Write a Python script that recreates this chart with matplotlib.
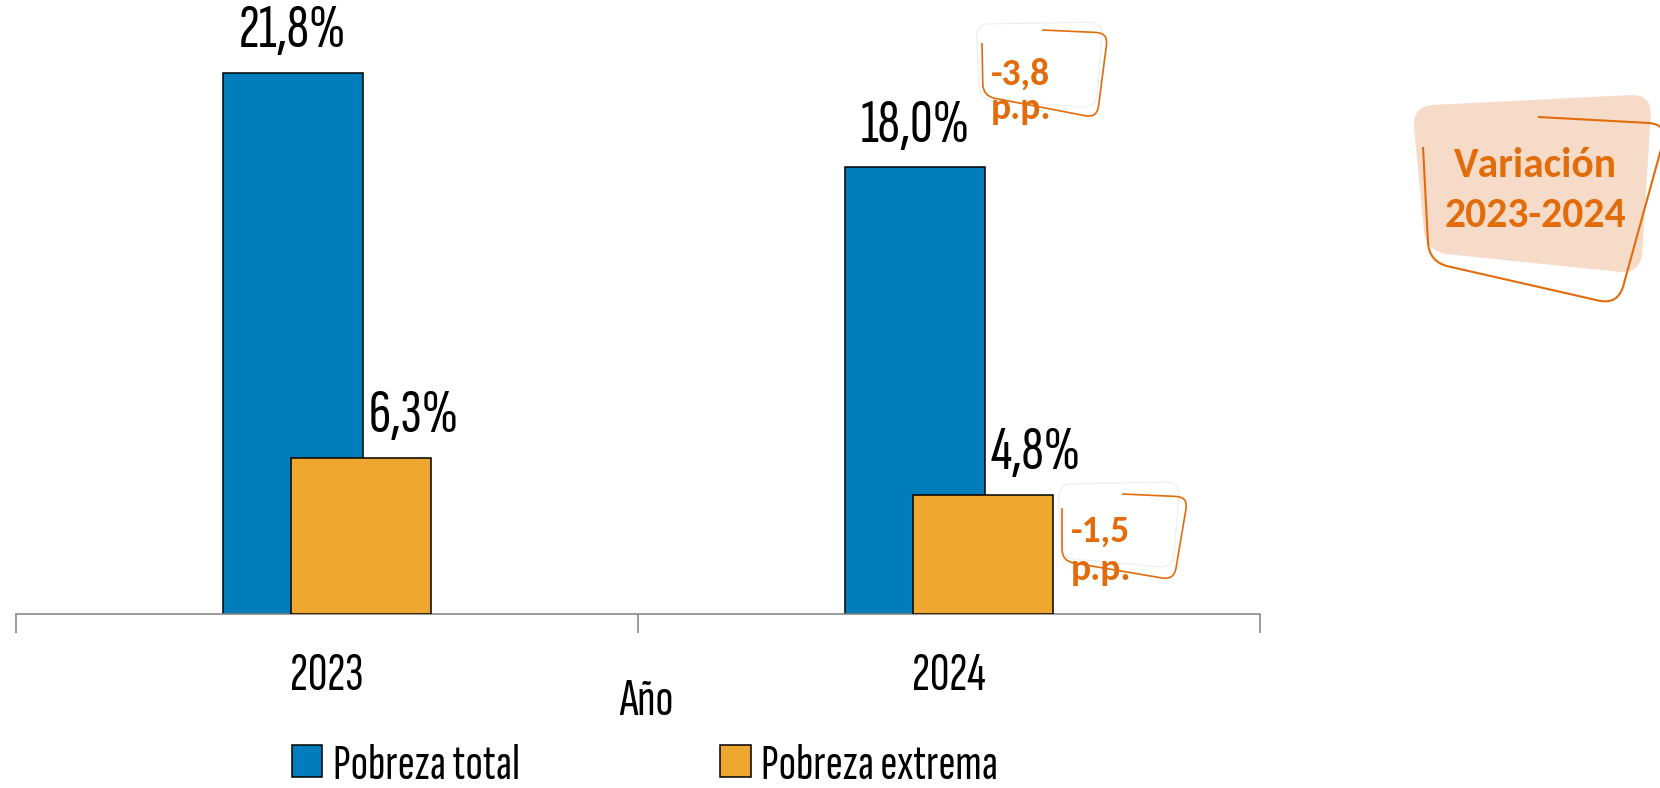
import matplotlib.pyplot as plt
import numpy as np
from matplotlib import font_manager
from matplotlib.patches import PathPatch
from matplotlib.path import Path

# data
years = ["2023", "2024"]
pobreza_total = [21.8, 18.0]
pobreza_extrema = [6.3, 4.8]
series_names = ["Pobreza total", "Pobreza extrema"]

BLUE = "#007DBA"
GOLD = "#EFA82F"
ORANGE = "#E36C0A"
PEACH = "#F7DBC9"

names = {f.name for f in font_manager.fontManager.ttflist}
NARROW = "Sofia Sans Extra Condensed" if "Sofia Sans Extra Condensed" in names else "DejaVu Sans"
BOLD = "Carlito" if "Carlito" in names else "Open Sans"


def pct(v):
    return f"{v:.1f}%".replace(".", ",")


def pp(v):
    return f"{v:.1f}".replace(".", ",") + "\np.p."


def rounded_path(points, r, closed=False):
    pts = [np.asarray(p, float) for p in points]
    n = len(pts)
    verts, codes = [], []
    corners = range(n) if closed else range(1, n - 1)
    if not closed:
        verts.append(pts[0])
        codes.append(Path.MOVETO)
    for k, i in enumerate(corners):
        p, a, b = pts[i], pts[i - 1], pts[(i + 1) % n]
        s = p + (a - p) / np.linalg.norm(a - p) * r
        e = p + (b - p) / np.linalg.norm(b - p) * r
        verts += [s, p, e]
        codes += [Path.MOVETO if (closed and k == 0) else Path.LINETO, Path.CURVE3, Path.CURVE3]
    if closed:
        verts.append(verts[0])
        codes.append(Path.CLOSEPOLY)
    else:
        verts.append(pts[-1])
        codes.append(Path.LINETO)
    return Path(verts, codes)


W, H = 1660, 788
fig = plt.figure(figsize=(W / 100, H / 100), dpi=100)
ax = fig.add_axes([16 / W, 1 - 614 / H, (1260 - 16) / W, 614 / H])

x = np.arange(len(years))
bw, off = 0.2245, 0.055
b1 = ax.bar(x - off, pobreza_total, bw, color=BLUE, edgecolor="black", linewidth=1.1,
            label=series_names[0], zorder=2)
b2 = ax.bar(x + off, pobreza_extrema, bw, color=GOLD, edgecolor="black", linewidth=1.1,
            label=series_names[1], zorder=3)

# value labels (extrema labels sit to the right of the bar centre)
for xi, v in zip(x - off, pobreza_total):
    ax.annotate(pct(v), (xi, v), xytext=(0, 18.5), textcoords="offset points",
                ha="center", va="baseline", fontsize=45, family=NARROW)
for xi, v in zip(x + off, pobreza_extrema):
    ax.annotate(pct(v), (xi, v), xytext=(38, 18.5), textcoords="offset points",
                ha="center", va="baseline", fontsize=45, family=NARROW)

ax.set_xlim(-0.5, len(years) - 0.5)
ax.set_ylim(0, 24.74)
for s in ["top", "right", "left"]:
    ax.spines[s].set_visible(False)
ax.spines["bottom"].set_color("#8a8a8a")
ax.spines["bottom"].set_linewidth(1.2)
ax.set_yticks([])
ax.set_xticks(np.arange(len(years) + 1) - 0.5)
ax.set_xticklabels([])
ax.tick_params(axis="x", which="major", length=14, width=1.2, color="#8a8a8a")
ax.set_xticks(x, minor=True)
ax.set_xticklabels(years, minor=True, fontsize=39, family=NARROW)
ax.tick_params(axis="x", which="minor", length=0, pad=28)

fig.text(646 / W, 1 - 702 / H, "Año", ha="center", va="center", fontsize=38, family=NARROW)

fig.legend(handles=[b1, b2], loc="center", bbox_to_anchor=(645 / W, 1 - 766 / H), ncol=2,
           frameon=False, prop={"family": NARROW, "size": 37}, handlelength=0.6,
           handleheight=0.6, handletextpad=0.2, columnspacing=3.9, borderpad=0)

# variation callouts
ov = fig.add_axes([0, 0, 1, 1], facecolor="none")
ov.set_xlim(0, W)
ov.set_ylim(H, 0)
ov.axis("off")

var_total = pobreza_total[1] - pobreza_total[0]
var_extrema = pobreza_extrema[1] - pobreza_extrema[0]

# faint shadow shapes
ov.add_patch(PathPatch(rounded_path([(976, 24), (1103, 22), (1096, 108), (980, 100)], 14, True),
                       fill=False, edgecolor="#f0f0f0", lw=1.0))
ov.add_patch(PathPatch(rounded_path([(1058, 484), (1180, 482), (1173, 568), (1062, 558)], 14, True),
                       fill=False, edgecolor="#f0f0f0", lw=1.0))

ov.add_patch(PathPatch(rounded_path([(1042, 30), (1108, 33), (1097, 118), (983, 96), (982, 43)], 12),
                       fill=False, edgecolor=ORANGE, lw=1.2))
ov.add_patch(PathPatch(rounded_path([(1122, 494), (1188, 497), (1174, 580), (1062, 561), (1062, 508)], 12),
                       fill=False, edgecolor=ORANGE, lw=1.2))

fs_small = 27 if BOLD == "Carlito" else 25
t1 = pp(var_total).split("\n")
ov.text(991, 85, t1[0], ha="left", va="baseline", fontsize=fs_small, family=BOLD, weight="bold", color=ORANGE)
ov.text(991, 119, t1[1], ha="left", va="baseline", fontsize=fs_small, family=BOLD, weight="bold", color=ORANGE)
t2 = pp(var_extrema).split("\n")
ov.text(1071, 542, t2[0], ha="left", va="baseline", fontsize=fs_small, family=BOLD, weight="bold", color=ORANGE)
ov.text(1071, 580, t2[1], ha="left", va="baseline", fontsize=fs_small, family=BOLD, weight="bold", color=ORANGE)

ov.add_patch(PathPatch(rounded_path([(1412, 106), (1652, 94), (1641, 274), (1426, 252)], 22, True),
                       facecolor=PEACH, edgecolor="none"))
ov.add_patch(PathPatch(rounded_path([(1538, 117), (1668, 124), (1618, 305), (1429, 262), (1423, 147)], 20),
                       fill=False, edgecolor=ORANGE, lw=1.5))
fs_big = 30 if BOLD == "Carlito" else 27
ov.text(1535, 165, "Variación", ha="center", va="center", fontsize=fs_big, family=BOLD,
        weight="bold", color=ORANGE)
ov.text(1535, 215, "2023-2024", ha="center", va="center", fontsize=fs_big, family=BOLD,
        weight="bold", color=ORANGE)

fig.savefig("out.png", dpi=100)
